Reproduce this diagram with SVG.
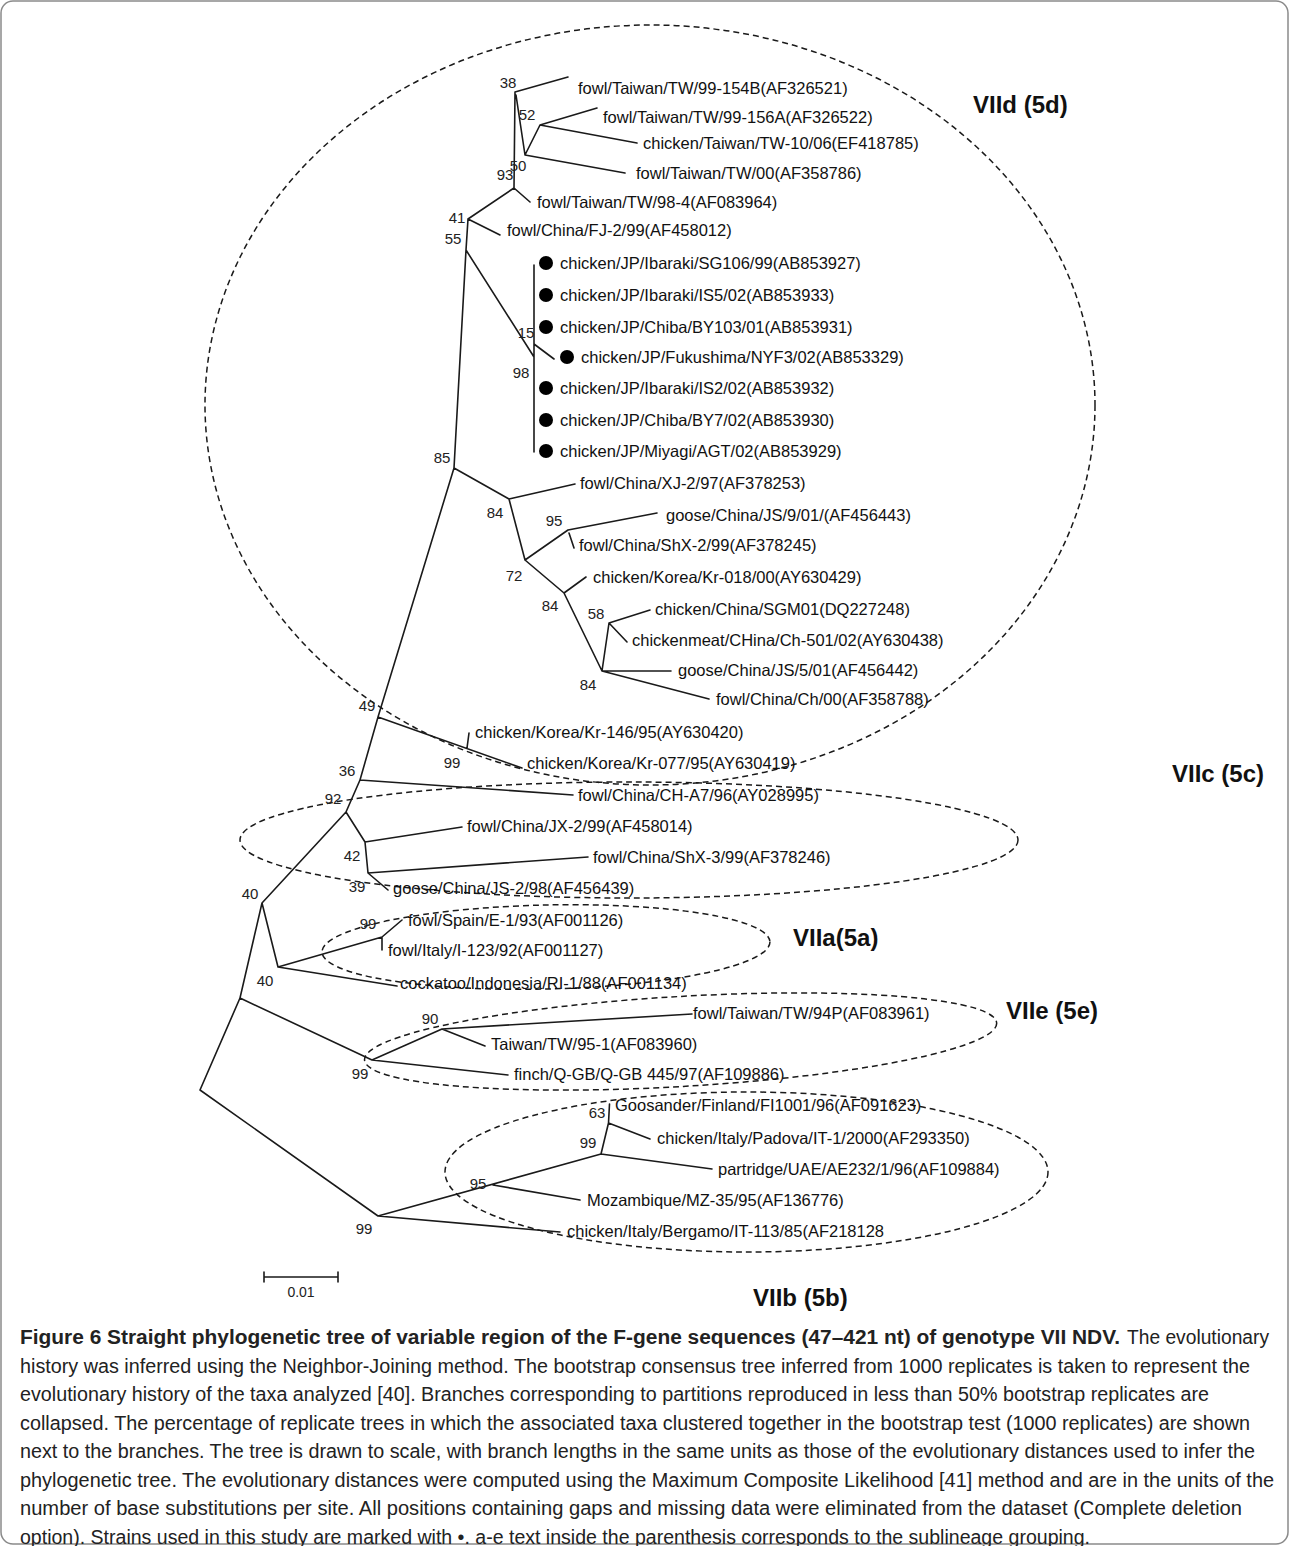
<svg xmlns="http://www.w3.org/2000/svg" width="1290" height="1546" viewBox="0 0 1290 1546">
<style>
.br{stroke:#1a1a1a;stroke-width:1.6;fill:none;stroke-linejoin:round;stroke-linecap:round}
.el{stroke:#1a1a1a;stroke-width:1.5;fill:none;stroke-dasharray:6 4}
text{font-family:"Liberation Sans",Arial,sans-serif;fill:#111}
.lf{font-size:16.5px;dominant-baseline:central}
.bs{font-size:15px;text-anchor:middle;dominant-baseline:central;fill:#222}
.grp{font-size:24px;font-weight:bold;dominant-baseline:central}
.cap{font-family:"Liberation Sans Narrow","Liberation Sans",Arial,sans-serif;font-size:20px;fill:#222;dominant-baseline:central}
.capb{font-weight:bold}
.dot{fill:#000}
</style>
<rect x="0" y="0" width="1290" height="1546" fill="#fff"/>
<rect x="1" y="1" width="1287" height="1543" rx="12" fill="none" stroke="#8a8a8a" stroke-width="1.5"/>

<g id="clusters">
<ellipse class="el" cx="650" cy="405" rx="445" ry="380"/>
<ellipse class="el" cx="629" cy="840" rx="389" ry="58"/>
<ellipse class="el" cx="546" cy="947" rx="224" ry="42" transform="rotate(-1.3 546 947)"/>
<ellipse class="el" cx="680.6" cy="1041.5" rx="316.6" ry="45" transform="rotate(-3.35 680.6 1041.5)"/>
<ellipse class="el" cx="746.5" cy="1172" rx="301.5" ry="80"/>
</g>

<g id="connectors">
<path class="br" d="M515,92 L568,77 M515,92 L514,188 M516,95 L525,155 L540,125 L597,108 M540,125 L637,143 M525,155 L625,173 M514,188 L530,202 M514,188 L468,219 L500,235 M468,219 L466,250 L454,468 M466,250 L534,357 M534,265 L534,452 M534,344 L554,359 M454,468 L509,499 L575,484 M509,499 L525,560 L568,530 L657,513 M569,533 L574,548 M525,560 L564,593 L586,577 M564,593 L602,671 L609,623 L650,610 M609,623 L627,642 M602,671 L671,671 M602,671 L709,699 M454,468 L378,717 L522,768 M467,748 L469,733 M378,717 L360,780 L573,795 M360,780 L346,812 L365,842 L462,827 M365,842 L368,873 L588,857 M368,873 L388,890 M346,812 L262,903 L278,967 L382,937 L402,920 M382,937 L382,950 M278,967 L397,986 M262,903 L240,998 L372,1060 L442,1029 L692,1014 M442,1029 L485,1046 M372,1060 L508,1075 M240,998 L200,1090 L378,1216 L601,1154 L608.5,1123 L609.5,1104 M608.5,1123 L650,1139 M601,1154 L712,1169 M493,1185 L580,1200 M378,1216 L560,1232"/>
</g>

<g id="bootstrap">
<text class="bs" x="508" y="82">38</text>
<text class="bs" x="527" y="114">52</text>
<text class="bs" x="518" y="165">50</text>
<text class="bs" x="505" y="174">93</text>
<text class="bs" x="457" y="217">41</text>
<text class="bs" x="453" y="238">55</text>
<text class="bs" x="526" y="332">15</text>
<text class="bs" x="521" y="372">98</text>
<text class="bs" x="442" y="457">85</text>
<text class="bs" x="495" y="512">84</text>
<text class="bs" x="554" y="520">95</text>
<text class="bs" x="514" y="575">72</text>
<text class="bs" x="550" y="605">84</text>
<text class="bs" x="596" y="613">58</text>
<text class="bs" x="588" y="684">84</text>
<text class="bs" x="367" y="705">49</text>
<text class="bs" x="452" y="762">99</text>
<text class="bs" x="347" y="770">36</text>
<text class="bs" x="333" y="798">92</text>
<text class="bs" x="352" y="855">42</text>
<text class="bs" x="357" y="886">39</text>
<text class="bs" x="250" y="893">40</text>
<text class="bs" x="368" y="923">99</text>
<text class="bs" x="265" y="980">40</text>
<text class="bs" x="430" y="1018">90</text>
<text class="bs" x="360" y="1073">99</text>
<text class="bs" x="597" y="1112">63</text>
<text class="bs" x="588" y="1142">99</text>
<text class="bs" x="478" y="1183">95</text>
<text class="bs" x="364" y="1228">99</text>
</g>

<g id="leaf-01"><text class="lf" x="578" y="88">fowl/Taiwan/TW/99-154B(AF326521)</text></g>
<g id="leaf-02"><text class="lf" x="603" y="117">fowl/Taiwan/TW/99-156A(AF326522)</text></g>
<g id="leaf-03"><text class="lf" x="643" y="143">chicken/Taiwan/TW-10/06(EF418785)</text></g>
<g id="leaf-04"><text class="lf" x="636" y="173">fowl/Taiwan/TW/00(AF358786)</text></g>
<g id="leaf-05"><text class="lf" x="537" y="202">fowl/Taiwan/TW/98-4(AF083964)</text></g>
<g id="leaf-06"><text class="lf" x="507" y="230">fowl/China/FJ-2/99(AF458012)</text></g>
<g id="leaf-07"><circle class="dot" cx="546" cy="263" r="7"/><text class="lf" x="560" y="263">chicken/JP/Ibaraki/SG106/99(AB853927)</text></g>
<g id="leaf-08"><circle class="dot" cx="546" cy="295" r="7"/><text class="lf" x="560" y="295">chicken/JP/Ibaraki/IS5/02(AB853933)</text></g>
<g id="leaf-09"><circle class="dot" cx="546" cy="327" r="7"/><text class="lf" x="560" y="327">chicken/JP/Chiba/BY103/01(AB853931)</text></g>
<g id="leaf-10"><circle class="dot" cx="567" cy="357" r="7"/><text class="lf" x="581" y="357">chicken/JP/Fukushima/NYF3/02(AB853329)</text></g>
<g id="leaf-11"><circle class="dot" cx="546" cy="388" r="7"/><text class="lf" x="560" y="388">chicken/JP/Ibaraki/IS2/02(AB853932)</text></g>
<g id="leaf-12"><circle class="dot" cx="546" cy="420" r="7"/><text class="lf" x="560" y="420">chicken/JP/Chiba/BY7/02(AB853930)</text></g>
<g id="leaf-13"><circle class="dot" cx="546" cy="451" r="7"/><text class="lf" x="560" y="451">chicken/JP/Miyagi/AGT/02(AB853929)</text></g>
<g id="leaf-14"><text class="lf" x="580" y="483">fowl/China/XJ-2/97(AF378253)</text></g>
<g id="leaf-15"><text class="lf" x="666" y="515">goose/China/JS/9/01/(AF456443)</text></g>
<g id="leaf-16"><text class="lf" x="579" y="545">fowl/China/ShX-2/99(AF378245)</text></g>
<g id="leaf-17"><text class="lf" x="593" y="577">chicken/Korea/Kr-018/00(AY630429)</text></g>
<g id="leaf-18"><text class="lf" x="655" y="609">chicken/China/SGM01(DQ227248)</text></g>
<g id="leaf-19"><text class="lf" x="632" y="640">chickenmeat/CHina/Ch-501/02(AY630438)</text></g>
<g id="leaf-20"><text class="lf" x="678" y="670">goose/China/JS/5/01(AF456442)</text></g>
<g id="leaf-21"><text class="lf" x="716" y="699">fowl/China/Ch/00(AF358788)</text></g>
<g id="leaf-22"><text class="lf" x="475" y="732">chicken/Korea/Kr-146/95(AY630420)</text></g>
<g id="leaf-23"><text class="lf" x="527" y="763">chicken/Korea/Kr-077/95(AY630419)</text></g>
<g id="leaf-24"><text class="lf" x="578" y="795">fowl/China/CH-A7/96(AY028995)</text></g>
<g id="leaf-25"><text class="lf" x="467" y="826">fowl/China/JX-2/99(AF458014)</text></g>
<g id="leaf-26"><text class="lf" x="593" y="857">fowl/China/ShX-3/99(AF378246)</text></g>
<g id="leaf-27"><text class="lf" x="393" y="888">goose/China/JS-2/98(AF456439)</text></g>
<g id="leaf-28"><text class="lf" x="408" y="920">fowl/Spain/E-1/93(AF001126)</text></g>
<g id="leaf-29"><text class="lf" x="388" y="950">fowl/Italy/I-123/92(AF001127)</text></g>
<g id="leaf-30"><text class="lf" x="400" y="983">cockatoo/Indonesia/RI-1/88(AF001134)</text></g>
<g id="leaf-31"><text class="lf" x="693" y="1013">fowl/Taiwan/TW/94P(AF083961)</text></g>
<g id="leaf-32"><text class="lf" x="491" y="1044">Taiwan/TW/95-1(AF083960)</text></g>
<g id="leaf-33"><text class="lf" x="514" y="1074">finch/Q-GB/Q-GB 445/97(AF109886)</text></g>
<g id="leaf-34"><text class="lf" x="615" y="1105">Goosander/Finland/FI1001/96(AF091623)</text></g>
<g id="leaf-35"><text class="lf" x="657" y="1138">chicken/Italy/Padova/IT-1/2000(AF293350)</text></g>
<g id="leaf-36"><text class="lf" x="718" y="1169">partridge/UAE/AE232/1/96(AF109884)</text></g>
<g id="leaf-37"><text class="lf" x="587" y="1200">Mozambique/MZ-35/95(AF136776)</text></g>
<g id="leaf-38"><text class="lf" x="567" y="1231">chicken/Italy/Bergamo/IT-113/85(AF218128</text></g>

<g id="group-VIId"><text class="grp" x="973" y="104">VIId (5d)</text></g>
<g id="group-VIIc"><text class="grp" x="1172" y="773">VIIc (5c)</text></g>
<g id="group-VIIa"><text class="grp" x="793" y="937">VIIa(5a)</text></g>
<g id="group-VIIe"><text class="grp" x="1006" y="1010">VIIe (5e)</text></g>
<g id="group-VIIb"><text class="grp" x="753" y="1297">VIIb (5b)</text></g>

<g id="scale-bar">
<path class="br" d="M264,1277 L338,1277 M264,1272 L264,1282 M338,1272 L338,1282"/>
<text class="bs" x="301" y="1292" style="font-size:14px">0.01</text>
</g>

<g id="caption">
<text class="cap capb" x="20" y="1337" textLength="1100" lengthAdjust="spacingAndGlyphs">Figure 6 Straight phylogenetic tree of variable region of the F-gene sequences (47–421 nt) of genotype VII NDV.</text>
<text class="cap" x="1127" y="1337" textLength="142" lengthAdjust="spacingAndGlyphs">The evolutionary</text>
<text class="cap" x="20" y="1365.5" textLength="1230" lengthAdjust="spacingAndGlyphs">history was inferred using the Neighbor-Joining method. The bootstrap consensus tree inferred from 1000 replicates is taken to represent the</text>
<text class="cap" x="20" y="1394" textLength="1189" lengthAdjust="spacingAndGlyphs">evolutionary history of the taxa analyzed [40]. Branches corresponding to partitions reproduced in less than 50% bootstrap replicates are</text>
<text class="cap" x="20" y="1422.5" textLength="1230" lengthAdjust="spacingAndGlyphs">collapsed. The percentage of replicate trees in which the associated taxa clustered together in the bootstrap test (1000 replicates) are shown</text>
<text class="cap" x="20" y="1451" textLength="1235" lengthAdjust="spacingAndGlyphs">next to the branches. The tree is drawn to scale, with branch lengths in the same units as those of the evolutionary distances used to infer the</text>
<text class="cap" x="20" y="1479.5" textLength="1254" lengthAdjust="spacingAndGlyphs">phylogenetic tree. The evolutionary distances were computed using the Maximum Composite Likelihood [41] method and are in the units of the</text>
<text class="cap" x="20" y="1508" textLength="1222" lengthAdjust="spacingAndGlyphs">number of base substitutions per site. All positions containing gaps and missing data were eliminated from the dataset (Complete deletion</text>
<text class="cap" x="20" y="1536.5" textLength="1070" lengthAdjust="spacingAndGlyphs">option). Strains used in this study are marked with •. a-e text inside the parenthesis corresponds to the sublineage grouping.</text>
</g>
</svg>
